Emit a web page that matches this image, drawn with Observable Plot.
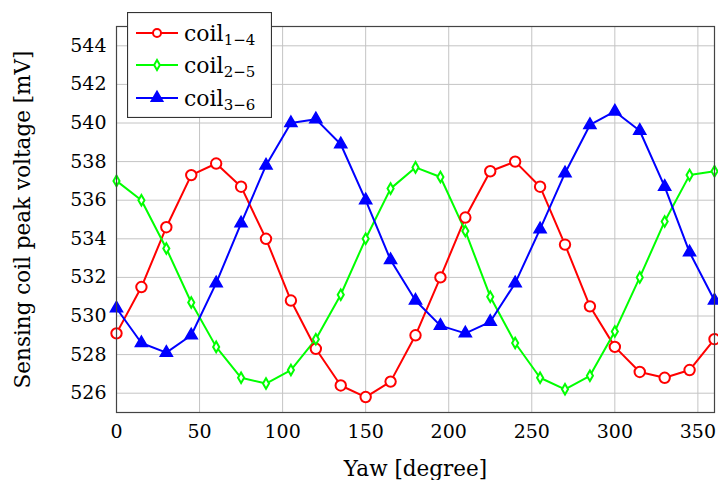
<!DOCTYPE html>
<html>
<head>
<meta charset="utf-8">
<script src="https://cdn.jsdelivr.net/npm/d3@7"></script>
<script src="https://cdn.jsdelivr.net/npm/@observablehq/plot@0.6"></script>
<style>
  html, body { margin: 0; padding: 0; background: #fff; }
  #wrap { position: relative; width: 718px; height: 480px; font-family: "DejaVu Serif", serif; }
  #legend { position: absolute; left: 127px; top: 12px; }
</style>
</head>
<body>
<div id="wrap"><div id="chart"></div><div id="legend"></div></div>
<script>
const yaw = [0,15,30,45,60,75,90,105,120,135,150,165,180,195,210,225,240,255,270,285,300,315,330,345,360];
const coil14 = [529.1,531.5,534.6,537.3,537.9,536.7,534.0,530.8,528.3,526.4,525.8,526.6,529.0,532.0,535.1,537.5,538.0,536.7,533.7,530.5,528.4,527.1,526.8,527.2,528.8];
const coil25 = [537.0,536.0,533.5,530.7,528.4,526.8,526.5,527.2,528.8,531.1,534.0,536.6,537.7,537.2,534.4,531.0,528.6,526.8,526.2,526.9,529.2,532.0,534.9,537.3,537.5];
const coil36 = [530.4,528.6,528.1,529.0,531.7,534.8,537.8,540.0,540.2,538.9,536.0,532.9,530.8,529.5,529.1,529.7,531.7,534.5,537.4,539.9,540.6,539.6,536.7,533.3,530.8];
const seriesNames = ["coil1-4","coil2-5","coil3-6"];
const seriesSub = ["1\u22124","2\u22125","3\u22126"];
const seriesColors = ["#ff0000","#00ff00","#0000ff"];
const xTicks = [0,50,100,150,200,250,300,350];
const yTicks = [526,528,530,532,534,536,538,540,542,544];

const seriesValues = [coil14, coil25, coil36];
const data = seriesValues.map((vals, i) => yaw.map((x, j) => ({x, y: vals[j], s: seriesNames[i]})));

const font = "DejaVu Serif, serif";
const chart = Plot.plot({
  width: 718, height: 480,
  marginLeft: 116, marginRight: 4, marginTop: 26, marginBottom: 68,
  style: {fontFamily: font, fontSize: "19px", background: "#fff", color: "#000"},
  x: {domain: [0, 360]},
  y: {domain: [525, 545]},
  marks: [
    Plot.gridX(xTicks, {stroke: "#c4c4c4", strokeOpacity: 1, strokeWidth: 1}),
    Plot.gridY(yTicks, {stroke: "#c4c4c4", strokeOpacity: 1, strokeWidth: 1}),
    Plot.axisX(xTicks, {tickSize: 0, tickPadding: 12, fontSize: 19, label: null}),
    Plot.axisX({tickSize: 0, ticks: [], fontSize: 21.5, label: "Yaw [degree]", labelAnchor: "center", labelArrow: "none", labelOffset: 63}),
    Plot.axisY(yTicks, {tickSize: 0, tickPadding: 10, fontSize: 19, label: null}),
    Plot.axisY({tickSize: 0, ticks: [], fontSize: 21.5, label: "Sensing coil peak voltage [mV]", labelAnchor: "center", labelArrow: "none", labelOffset: 102}),
    Plot.line(data[0], {x: "x", y: "y", stroke: seriesColors[0], strokeWidth: 2}),
    Plot.line(data[1], {x: "x", y: "y", stroke: seriesColors[1], strokeWidth: 2}),
    Plot.line(data[2], {x: "x", y: "y", stroke: seriesColors[2], strokeWidth: 2}),
    Plot.dot(data[0], {x: "x", y: "y", symbol: "circle", r: 5.2, stroke: seriesColors[0], fill: "#fff", strokeWidth: 2}),
    Plot.dot(data[1], {x: "x", y: "y", symbol: "diamond", r: 3.2, stroke: seriesColors[1], fill: "#fff", strokeWidth: 2}),
    Plot.dot(data[2], {x: "x", y: "y", symbol: "triangle", r: 4.5, stroke: seriesColors[2], fill: seriesColors[2], strokeWidth: 1.5}),
    Plot.frame({stroke: "#444", strokeWidth: 1.2})
  ]
});
document.getElementById("chart").appendChild(chart);

// legend
const lw = 145, lh = 106;
const leg = d3.select("#legend").append("svg").attr("width", lw).attr("height", lh)
  .style("display", "block");
leg.append("rect").attr("x", 0.5).attr("y", 0.5).attr("width", lw - 1).attr("height", lh - 1)
  .attr("fill", "#fff").attr("stroke", "#333").attr("stroke-width", 1.2);
const rowY = [21, 53, 86];
const symbols = [d3.symbolCircle, d3.symbolDiamond, d3.symbolTriangle];
const radii = [4, 3, 4];
seriesNames.forEach((name, i) => {
  const g = leg.append("g").attr("transform", `translate(0,${rowY[i]})`);
  g.append("line").attr("x1", 9).attr("x2", 51).attr("y1", 0).attr("y2", 0)
    .attr("stroke", seriesColors[i]).attr("stroke-width", 2);
  g.append("path").attr("transform", "translate(30,0)")
    .attr("d", d3.symbol(symbols[i], Math.PI * radii[i] * radii[i])())
    .attr("fill", i === 2 ? seriesColors[i] : "#fff").attr("stroke", seriesColors[i]).attr("stroke-width", 2);
  const t = g.append("text").attr("x", 57).attr("y", 8).attr("font-family", font).attr("font-size", 22);
  t.append("tspan").text("coil");
  t.append("tspan").attr("font-size", 15).attr("dy", 4).text(seriesSub[i]);
});
</script>
</body>
</html>
